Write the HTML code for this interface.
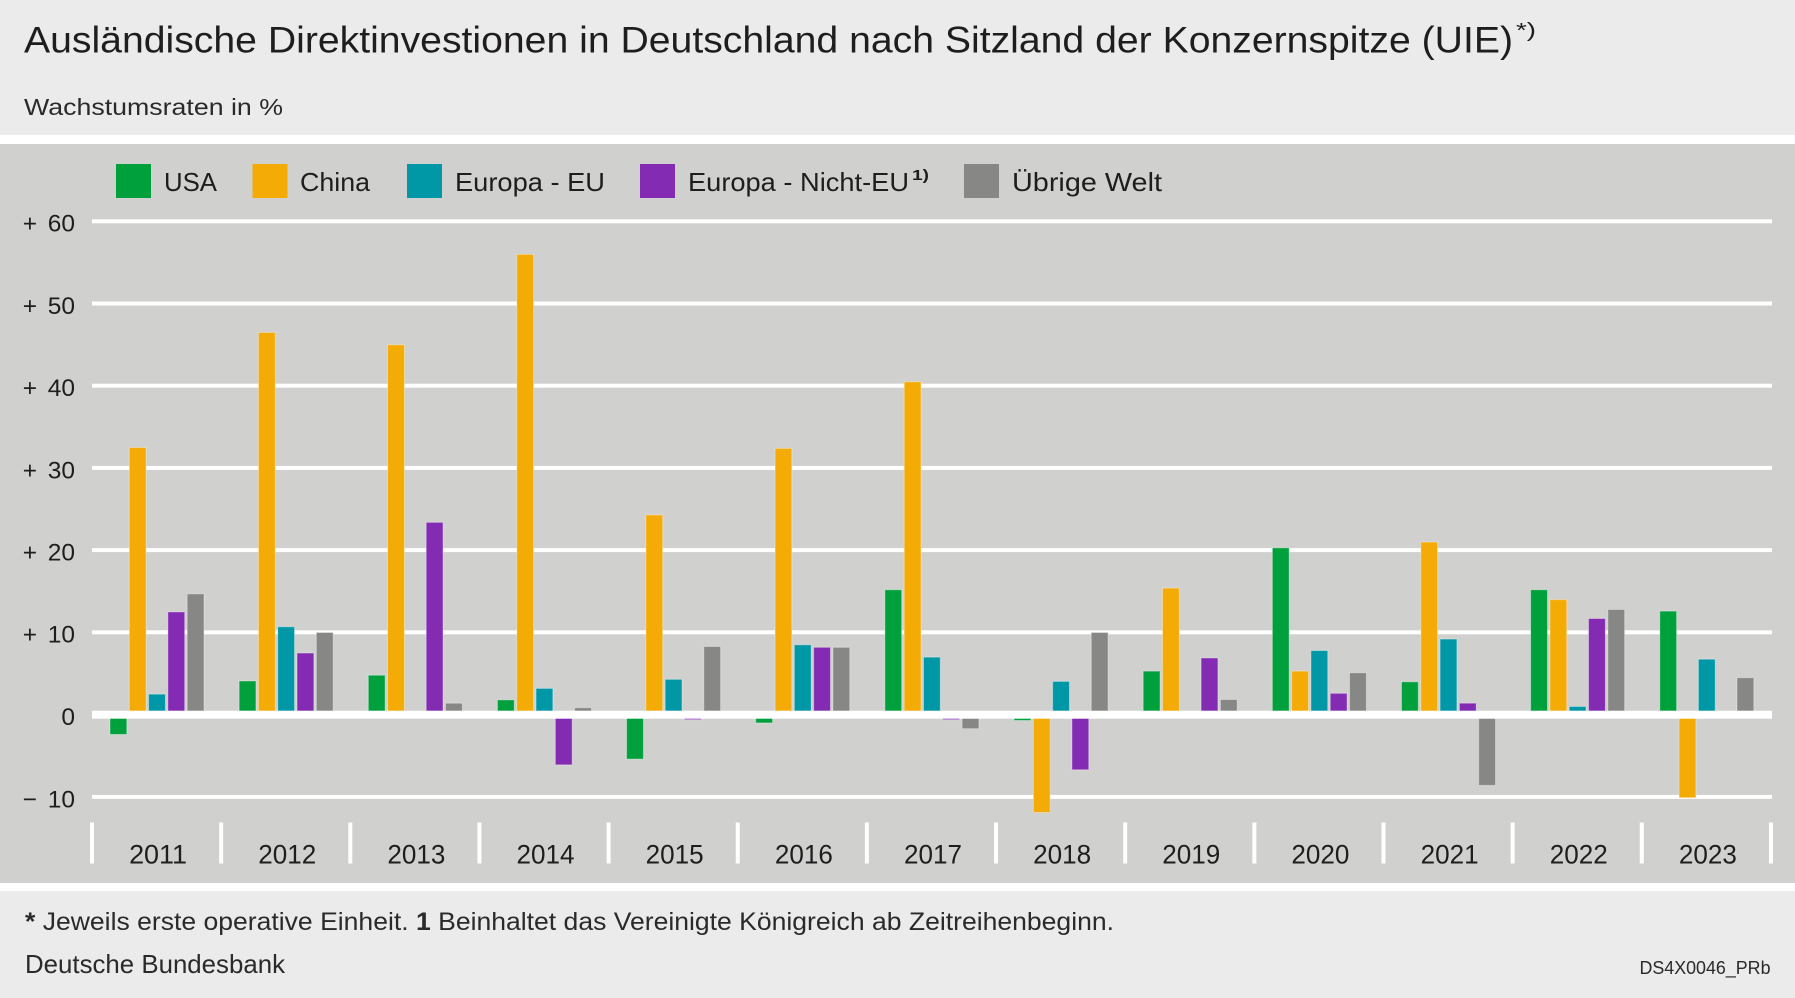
<!DOCTYPE html>
<html>
<head>
<meta charset="utf-8">
<style>
html,body{margin:0;padding:0;background:#ebebeb;}
svg{display:block;}
text{font-family:"Liberation Sans","DejaVu Sans",sans-serif;fill:#1f1d1e;}
</style>
</head>
<body>
<svg width="1795" height="998" viewBox="0 0 1795 998" xmlns="http://www.w3.org/2000/svg">
  <!-- backgrounds -->
  <rect x="0" y="0" width="1795" height="135" fill="#ebebeb"/>
  <rect x="0" y="135" width="1795" height="9" fill="#ffffff"/>
  <rect x="0" y="144" width="1795" height="739" fill="#d0d0ce"/>
  <rect x="0" y="883" width="1795" height="8" fill="#ffffff"/>
  <rect x="0" y="891" width="1795" height="107" fill="#ebebeb"/>

  <!-- title -->
  <text x="24" y="52.5" font-size="37" textLength="1489" lengthAdjust="spacingAndGlyphs">Ausländische Direktinvestionen in Deutschland nach Sitzland der Konzernspitze (UIE)</text>
  <text x="1516" y="37" font-size="20" textLength="20" lengthAdjust="spacingAndGlyphs">*)</text>
  <text x="24" y="115" font-size="23" textLength="259" lengthAdjust="spacingAndGlyphs" style="fill:#2a2a2a">Wachstumsraten in %</text>

  <!-- legend -->
  <rect x="116" y="164" width="35" height="34" fill="#00a03c"/>
  <text x="164" y="191" font-size="26" textLength="53" lengthAdjust="spacingAndGlyphs">USA</text>
  <rect x="252.5" y="164" width="35" height="34" fill="#f5ab06"/>
  <text x="300" y="191" font-size="26" textLength="70" lengthAdjust="spacingAndGlyphs">China</text>
  <rect x="407" y="164" width="35" height="34" fill="#0097a7"/>
  <text x="455" y="191" font-size="26" textLength="150" lengthAdjust="spacingAndGlyphs">Europa - EU</text>
  <rect x="640" y="164" width="35" height="34" fill="#832bb2"/>
  <text x="688" y="191" font-size="26" textLength="221" lengthAdjust="spacingAndGlyphs">Europa - Nicht-EU</text>
  <text x="912" y="180" font-size="15" font-weight="bold" textLength="17" lengthAdjust="spacingAndGlyphs">1)</text>
  <rect x="964" y="164" width="35" height="34" fill="#878785"/>
  <text x="1012" y="191" font-size="26" textLength="150" lengthAdjust="spacingAndGlyphs">Übrige Welt</text>

  <!-- grid lines -->
  <g fill="#ffffff">
    <rect x="92" y="219.3" width="1680" height="4"/>
    <rect x="92" y="301.5" width="1680" height="4"/>
    <rect x="92" y="383.7" width="1680" height="4"/>
    <rect x="92" y="465.9" width="1680" height="4"/>
    <rect x="92" y="548.1" width="1680" height="4"/>
    <rect x="92" y="630.3" width="1680" height="4"/>
    <rect x="92" y="794.9" width="1680" height="4"/>
  </g>

  <!-- y labels -->
  <g font-size="24.5">
    <text x="22.7" y="231.7">+</text><text x="75" y="231.7" text-anchor="end">60</text>
    <text x="22.7" y="313.9">+</text><text x="75" y="313.9" text-anchor="end">50</text>
    <text x="22.7" y="396.1">+</text><text x="75" y="396.1" text-anchor="end">40</text>
    <text x="22.7" y="478.3">+</text><text x="75" y="478.3" text-anchor="end">30</text>
    <text x="22.7" y="560.5">+</text><text x="75" y="560.5" text-anchor="end">20</text>
    <text x="22.7" y="642.7">+</text><text x="75" y="642.7" text-anchor="end">10</text>
    <text x="75" y="724.9" text-anchor="end">0</text>
    <text x="22.7" y="807.3">−</text><text x="75" y="807.3" text-anchor="end">10</text>
  </g>

  <!-- bars -->
  <g id="bars" stroke-width="1" stroke-opacity="0.35" stroke="#ffffff"></g>

  <!-- zero line -->
  <rect x="92" y="710.7" width="1680" height="8" fill="#ffffff"/>

  <!-- x separators and labels -->
  <g id="xaxis"></g>

  <!-- footer -->
  <text x="25" y="930" font-size="25" textLength="1089" lengthAdjust="spacingAndGlyphs" style="fill:#2a2a2a"><tspan font-weight="bold">*</tspan> Jeweils erste operative Einheit. <tspan font-weight="bold">1</tspan> Beinhaltet das Vereinigte Königreich ab Zeitreihenbeginn.</text>
  <text x="25" y="973" font-size="26" textLength="260" lengthAdjust="spacingAndGlyphs" style="fill:#2a2a2a">Deutsche Bundesbank</text>
  <text x="1770.5" y="974" font-size="18" text-anchor="end" textLength="131" lengthAdjust="spacingAndGlyphs" style="fill:#2a2a2a">DS4X0046_PRb</text>
</svg>
<script>
(function(){
  var NS="http://www.w3.org/2000/svg";
  var data=[
    [-2.4,4.1,4.8,1.8,-5.4,-1.0,15.2,-0.7,5.3,20.3,4.0,15.2,12.6],
    [32.5,46.5,45.0,56.0,24.3,32.4,40.5,-11.9,15.4,5.3,21.0,14.0,-10.1],
    [2.5,10.7,-0.1,3.2,4.3,8.5,7.0,4.05,0,7.8,9.2,1.0,6.75],
    [12.5,7.5,23.4,-6.1,-0.6,8.2,-0.6,-6.7,6.9,2.6,1.4,11.7,0],
    [14.7,10.0,1.4,0.85,8.3,8.2,-1.7,10.0,1.85,5.1,-8.6,12.8,4.5]
  ];
  var cols=["#00a03c","#f5ab06","#0097a7","#832bb2","#878785"];
  var zero=714.7, k=8.22, x0=92, cw=129.15;
  var g=document.getElementById("bars");
  for(var s=0;s<5;s++){
    for(var c=0;c<13;c++){
      var v=data[s][c]; if(v===0) continue;
      var x=x0+c*cw+18+s*19.3;
      var yv=zero-k*v;
      var y=Math.min(yv,zero), h=Math.abs(yv-zero);
      var r=document.createElementNS(NS,"rect");
      r.setAttribute("x",x.toFixed(2));
      r.setAttribute("y",y.toFixed(2));
      r.setAttribute("width","16.8");
      r.setAttribute("height",h.toFixed(2));
      r.setAttribute("fill",cols[s]);
      g.appendChild(r);
    }
  }
  var xa=document.getElementById("xaxis");
  for(var i=0;i<=13;i++){
    var sx=x0+i*cw;
    var t=document.createElementNS(NS,"rect");
    t.setAttribute("x",(sx-2).toFixed(2));
    t.setAttribute("y","822.5");
    t.setAttribute("width","4");
    t.setAttribute("height","41");
    t.setAttribute("fill","#ffffff");
    xa.appendChild(t);
    if(i<13){
      var cx=sx+cw/2+1.5;
      var tx=document.createElementNS(NS,"text");
      tx.setAttribute("x",(cx-29).toFixed(2));
      tx.setAttribute("y","863.5");
      tx.setAttribute("font-size","27");
      tx.setAttribute("textLength","58");
      tx.setAttribute("lengthAdjust","spacingAndGlyphs");
      tx.textContent=String(2011+i);
      xa.appendChild(tx);
    }
  }
})();
</script>
</body>
</html>
